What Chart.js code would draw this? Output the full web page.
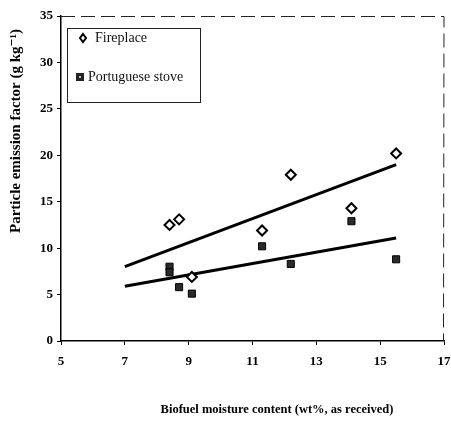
<!DOCTYPE html>
<html lang="en">
<head>
    <meta charset="UTF-8">
    <title>Particle emission factor vs biofuel moisture</title>
    <script src="https://cdn.jsdelivr.net/npm/chart.js"></script>
    <style>
        html, body { margin: 0; padding: 0; background: #fff; }
        #wrap { width: 451px; height: 421px; }
    </style>
</head>
<body>
    <div id="wrap"><canvas id="emissionChart" width="451" height="421"></canvas></div>

    <script>
        // values
        const fireplaceX = [8.4, 8.7, 9.1, 11.3, 12.2, 14.1, 15.5];
        const fireplaceY = [12.5, 13.1, 6.9, 11.9, 17.9, 14.3, 20.2];
        const stoveX = [8.4, 8.4, 8.7, 9.1, 11.3, 12.2, 14.1, 15.5];
        const stoveY = [8.0, 7.4, 5.8, 5.1, 10.2, 8.3, 12.9, 8.8];
        const fireplaceTrendX = [7.0, 15.5];
        const fireplaceTrendY = [8.0, 19.0];
        const stoveTrendX = [7.0, 15.5];
        const stoveTrendY = [5.9, 11.1];
        const xTicks = [5, 7, 9, 11, 13, 15, 17];
        const yTicks = [0, 5, 10, 15, 20, 25, 30, 35];
        const seriesNames = ['Fireplace', 'Portuguese stove'];

        const pts = (xs, ys) => xs.map((x, i) => ({ x: x, y: ys[i] }));
        const serif = '"Liberation Serif", "DejaVu Serif", serif';

        // legend box, axis titles and frame drawn on the canvas
        const decor = {
            id: 'decor',
            beforeDatasetsDraw(chart) {
                const { ctx, chartArea: a } = chart;
                ctx.save();
                ctx.strokeStyle = '#222';
                ctx.lineWidth = 1;
                ctx.setLineDash([14, 6]);
                ctx.beginPath();
                ctx.moveTo(a.left, a.top + 0.5);
                ctx.lineTo(a.right, a.top + 0.5);
                ctx.lineTo(a.right - 0.5, a.bottom);
                ctx.stroke();
                ctx.setLineDash([]);
                ctx.restore();
            },
            afterDraw(chart) {
                const { ctx, chartArea: a } = chart;
                ctx.save();
                // legend
                const lx = a.left + 6, ly = a.top + 12, lw = 133, lh = 74;
                ctx.strokeStyle = '#222';
                ctx.lineWidth = 1;
                ctx.strokeRect(lx + 0.5, ly + 0.5, lw, lh);
                ctx.fillStyle = '#111';
                ctx.font = '14px ' + serif;
                ctx.textBaseline = 'middle';
                ctx.fillText(seriesNames[0], lx + 28, ly + 10);
                ctx.fillText(seriesNames[1], lx + 21, ly + 49);
                // diamond
                const dx = lx + 16, dy = ly + 10;
                ctx.lineWidth = 2;
                ctx.strokeStyle = '#000';
                ctx.beginPath();
                ctx.moveTo(dx, dy - 4); ctx.lineTo(dx + 3, dy); ctx.lineTo(dx, dy + 4); ctx.lineTo(dx - 3, dy); ctx.closePath();
                ctx.stroke();
                // square
                const sx = lx + 13, sy = ly + 49;
                ctx.fillStyle = '#222';
                ctx.fillRect(sx - 4, sy - 4, 8, 8);
                ctx.fillStyle = '#bbb';
                ctx.fillRect(sx - 1, sy - 1, 2, 2);
                // axis titles
                ctx.fillStyle = '#000';
                ctx.font = 'bold 12.5px ' + serif;
                ctx.textAlign = 'center';
                ctx.fillText('Biofuel moisture content (wt%, as received)', 277, 410);
                ctx.translate(16, 131);
                ctx.rotate(-Math.PI / 2);
                ctx.font = 'bold 15px ' + serif;
                ctx.fillText('Particle emission factor (g kg\u207B\u00B9)', 0, 0);
                ctx.restore();
            }
        };

        const ctx = document.getElementById('emissionChart').getContext('2d');
        const emissionChart = new Chart(ctx, {
            type: 'scatter',
            data: {
                datasets: [
                    {
                        label: seriesNames[0],
                        data: pts(fireplaceX, fireplaceY),
                        pointStyle: 'rectRot',
                        pointRadius: 5,
                        backgroundColor: '#fff',
                        borderColor: '#000',
                        borderWidth: 2
                    },
                    {
                        label: seriesNames[1],
                        data: pts(stoveX, stoveY),
                        pointStyle: 'rect',
                        pointRadius: 5,
                        backgroundColor: '#2a2a2a',
                        borderColor: '#000',
                        borderWidth: 1
                    },
                    {
                        label: 'Fireplace trend',
                        type: 'line',
                        data: pts(fireplaceTrendX, fireplaceTrendY),
                        borderColor: '#000',
                        borderWidth: 3,
                        pointRadius: 0,
                        fill: false
                    },
                    {
                        label: 'Stove trend',
                        type: 'line',
                        data: pts(stoveTrendX, stoveTrendY),
                        borderColor: '#000',
                        borderWidth: 3,
                        pointRadius: 0,
                        fill: false
                    }
                ]
            },
            options: {
                responsive: false,
                animation: false,
                layout: { padding: { left: 0, top: 16, right: 6, bottom: 0 } },
                plugins: {
                    legend: { display: false },
                    tooltip: { enabled: false }
                },
                scales: {
                    x: {
                        type: 'linear',
                        min: 5,
                        max: 17,
                        afterBuildTicks: (s) => { s.ticks = xTicks.map(v => ({ value: v })); },
                        afterFit: (s) => { s.height = 80; s.paddingRight = 0; s.paddingLeft = 0; },
                        grid: { drawOnChartArea: false, tickLength: 4, color: '#000' },
                        border: { color: '#000', width: 1.5 },
                        ticks: {
                            color: '#000',
                            padding: 9,
                            font: { family: serif, size: 13, weight: 'bold' }
                        }
                    },
                    y: {
                        min: 0,
                        max: 35,
                        afterBuildTicks: (s) => { s.ticks = yTicks.map(v => ({ value: v })); },
                        afterFit: (s) => { s.width = 61; },
                        grid: { drawOnChartArea: false, tickLength: 4, color: '#000' },
                        border: { color: '#000', width: 1.5 },
                        ticks: {
                            color: '#000',
                            padding: 4,
                            font: { family: serif, size: 13, weight: 'bold' }
                        }
                    }
                }
            },
            plugins: [decor]
        });
    </script>
</body>
</html>
